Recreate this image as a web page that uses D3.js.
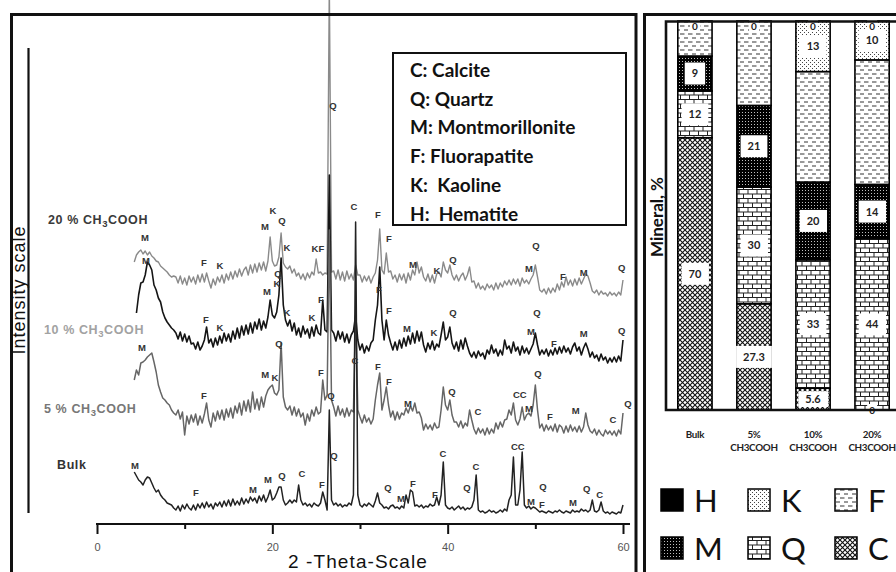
<!DOCTYPE html>
<html>
<head>
<meta charset="utf-8">
<script src="https://cdn.jsdelivr.net/npm/d3@7"></script>
<style>
body { margin: 0; background: #fff; }
svg { display: block; }
</style>
</head>
<body>
<div id="chart"></div>
<script>
// ---- XRD patterns: intensity (a.u.) every 0.25 deg 2-theta, from 4.25 to 60 ----
const thetaStart = 4.25;
const thetaStep = 0.25;

const samples = ["Bulk", "5 % CH3COOH", "10 % CH3COOH", "20 % CH3COOH"];
const sampleOffsets = [10, 100, 170, 240]; // stacking offset of each pattern

const xrdBulk = [
  43, 39, 35,
  33, 30, 35, 38,  37, 32, 27, 23,  25, 20, 17, 15,  12, 11, 10, 7,  5, 9, 4, 10,
  6, 11, 7, 5,  10, 5, 11, 7,  12, 7, 13, 8,  11, 6, 12, 9,  13, 8, 14, 9,
  15, 9, 16, 10,  14, 10, 17, 11,  16, 12, 18, 14,  17, 12, 19, 14,  20, 13, 18, 25,
  15, 17, 22, 28,  28, 15, 10, 12,  15, 12, 15, 13,  30, 15, 10, 12,  9, 11, 8, 12,
  10, 9, 12, 23,  15, 5, 105, 15,  10, 12, 9, 11,  8, 10, 9, 12,  10, 20, 293, 20,
  10, 8, 11, 9,  12, 10, 8, 14,  22, 12, 10, 7,  8, 6, 9, 10,  7, 8, 6, 9,
  7, 20, 12, 25,  23, 9, 10, 8,  10, 7, 9, 8,  11, 9, 10, 18,  10, 20, 53, 10,
  7, 6, 8, 5,  7, 9, 6, 8,  5, 7, 6, 8,  15, 40, 5, 3,  4, 2, 3, 5,
  3, 4, 2, 3,  5, 3, 6, 4,  15, 20, 58, 10,  10, 25, 63, 10,  7, 9, 6, 8,
  7, 5, 3, 4,  3, 2, 4, 3,  2, 4, 3, 5,  3, 2, 4, 3,  2, 5, 3, 4,
  3, 6, 4, 5,  3, 5, 15, 4,  3, 5, 13, 4,  2, 3, 1, 3,  2, 1, 3, 2,
  10
];

const xrd5 = [
  45, 55, 50,
  62, 63, 65, 68,  70, 72, 63, 53,  40, 33, 27, 25,  22, 20, 15, 12,  10, 15, 6, 13,
  -10, 9, 1, 10,  3, 11, 0, 9,  2, 11, 22, 5,  -2, 12, 4, 14,  6, 15, 5, 16,
  8, 17, 7, 19,  12, 22, 10, 24,  14, 25, 13, 33,  16, 26, 15, 28,  18, 29, 35, 38,
  40, 32, 30, 35,  82, 28, 18, 15,  19, 10, 18, 9,  16, 8, 12, 0,  11, 4, 15, 9,
  18, 11, 13, 45,  25, 30, 195, 25,  18, 9, 19, 10,  16, 8, 17, 9,  15, 13, 115, 15,
  8, 2, 10, 3,  7, 1, 6, 25,  40, 52, 15, 25,  38, 20, 8, 14,  5, 13, 6, 12,
  10, 17, 12, 19,  14, 22, 12, 13,  7, -5, 1, -4,  0, -5, 2, -3,  -2, 15, 38, 20,
  15, 25, 10, 3,  3, -2, 4, -3,  2, -1, 15, 5,  -4, -9, -3, -8,  -4, -10, -3, -9,
  -4, -8, 2, -4,  3, -2, 5, 6,  15, 10, 22, 5,  0, 6, 18, 5,  10, 12, 9, 20,
  40, 15, -3, 1,  -6, 0, -5, -1,  -6, 1, -7, 0,  -2, -8, -1, -7,  0, -6, -2, -7,
  -1, -7, -2, 12,  0, -6, -8, -4,  -10, -5, -9, -11,  -5, -9, -6, -10,  -6, -11, -5, -9,
  12
];

const xrd10 = [
  null, 42, 60,
  72, 73, 80, 93,  90, 85, 70, 65,  57, 53, 43, 37,  33, 30, 27, 25,  22, 16, 23, 14,
  21, 13, 19, 11,  12, 6, 13, 5,  9, 15, 28, 12,  16, 8, 17, 10,  19, 12, 22, 14,
  21, 13, 24, 16,  27, 17, 29, 20,  30, 21, 32, 22,  33, 26, 36, 25,  34, 27, 38, 55,
  40, 37, 43, 60,  97, 50, 35, 29,  35, 24, 32, 20,  27, 18, 29, 21,  26, 17, 28, 19,
  30, 22, 20, 55,  25, 23, 180, 25,  22, 14, 24, 16,  23, 13, 21, 12,  20, 24, 40, 15,
  5, 11, 2, 9,  4, 12, 15, 35,  50, 88, 35, 15,  35, 20, 12, 5,  13, 5, 15, 7,
  17, 9, 19, 11,  22, 12, 24, 14,  23, 10, 3, 12,  6, 14, 5, 11,  8, 20, 33, 15,
  18, 28, 12, 6,  13, 4, 15, 6,  17, 9, 2, -2,  3, -3, 4, -1,  2, -4, 5, 1,
  10, 2, 6, -1,  5, 0, 15, 6,  9, 2, 13, 4,  8, 0, 9, 2,  7, 1, 6, 11,
  22, 10, 0, 5,  1, 6, -1, 5,  0, 7, 1, 8,  2, 9, 3, 7,  1, 8, 12, 4,
  8, 0, 7, 12,  6, -2, 3, -3,  0, -6, 1, -5,  -2, -8, -3, -7,  -2, -7, -1, -6,
  15
];

const xrd20 = [
  23, 30, 33,
  35, 31, 34, 30,  33, 29, 27, 24,  23, 19, 17, 15,  13, 10, 8, 9,  8, 2, 9, 1,
  7, 0, 9, 3,  8, 1, 10, 3,  11, 3, 12, 4,  -3, 6, 0, 8,  3, 10, 2, 11,
  5, 13, 6, 14,  8, 16, 9, 15,  18, 10, 20, 12,  21, 13, 22, 15,  23, 14, 24, 48,
  24, 19, 20, 28,  52, 22, 18, 16,  19, 12, 16, 9,  12, 6, 11, 5,  12, 7, 13, 10,
  26, 12, 13, 10,  12, 11, 300, 13,  14, 6, 15, 5,  13, 4, 14, 6,  11, 5, 20, 10,
  10, 3, 9, 4,  9, 2, 8, 12,  25, 56, 15, 11,  32, 13, 14, 6,  10, 3, 11, 5,
  11, 2, 12, 5,  15, 10, 23, 12,  18, 8, 4, 11,  3, 10, 2, 11,  13, 8, 23, 15,
  12, 20, 10, 5,  10, 4, 9, 12,  5, 10, 18, 3,  4, -3, 2, -4,  -1, -5, 1, -3,
  0, -5, 2, -4,  2, -2, 4, 0,  5, 0, 6, 1,  6, -1, 7, 2,  5, 1, 6, 10,
  20, 8, -5, -7,  -4, -9, -3, -8,  -3, -7, 1, -5,  3, -2, 8, 0,  5, -1, 6, 0,
  7, 1, 6, 11,  9, 2, -6, -8,  -5, -10, -6, -9,  -8, -11, -7, -10,  -8, -11, -7, -10,
  5
];

// phase marks: [letter, 2-theta, intensity]
const peakLabels = [
  // 20 %
  ["K", 20.07, 314], ["Q", 21.09, 304], ["M", 19.16, 298], ["C", 29.3, 318], ["F", 32.04, 310],
  ["M", 5.47, 287], ["K", 21.66, 277], ["KF", 25.2, 276], ["F", 33.3, 286], ["Q", 50.06, 279],
  ["F", 12.2, 262], ["K", 14.03, 259], ["M", 36.03, 260], ["Q", 40.59, 265], ["K", 38.77, 254],
  ["M", 49.26, 256], ["F", 53.14, 248], ["M", 55.53, 252], ["Q", 59.86, 257], ["Q", 26.91, 419],
  // 10 %
  ["M", 5.59, 264], ["Q", 20.64, 251], ["M", 19.38, 233], ["K", 20.52, 241], ["F", 32.16, 235],
  ["F", 25.54, 225], ["K", 21.66, 212], ["K", 24.52, 207], ["F", 33.3, 214], ["Q", 40.59, 212],
  ["Q", 50.17, 212], ["F", 12.43, 205], ["K", 14.03, 197], ["M", 35.35, 196], ["K", 38.43, 192],
  ["M", 49.49, 193], ["M", 55.53, 191], ["Q", 59.86, 194], ["F", 52.11, 181],
  // 5 %
  ["C", 29.42, 164], ["M", 5.13, 177], ["Q", 20.75, 181], ["F", 25.54, 152], ["F", 32.04, 158],
  ["F", 33.3, 143], ["Q", 50.29, 151], ["M", 19.2, 150], ["K", 20.3, 147], ["Q", 26.68, 129],
  ["Q", 40.48, 133], ["CC", 48.23, 130], ["F", 12.2, 129], ["M", 35.46, 121], ["C", 43.44, 113],
  ["M", 49.26, 116], ["F", 51.65, 108], ["M", 54.62, 114], ["C", 58.84, 105], ["Q", 60.55, 121],
  // Bulk
  ["Q", 27.02, 69], ["C", 39.45, 71], ["CC", 48.0, 78], ["M", 4.33, 59], ["C", 43.22, 58],
  ["C", 23.38, 51], ["Q", 21.1, 49], ["M", 19.5, 45], ["M", 17.79, 35], ["F", 25.66, 40],
  ["F", 36.03, 41], ["Q", 33.18, 37], ["Q", 42.19, 37], ["Q", 50.86, 38], ["Q", 55.87, 36],
  ["C", 57.35, 30], ["F", 11.29, 32], ["F", 38.54, 30], ["M", 34.66, 26], ["M", 49.49, 23],
  ["F", 50.74, 20], ["M", 54.28, 22]
];

const phaseKey = ["C: Calcite", "Q: Quartz", "M: Montmorillonite", "F: Fluorapatite", "K:  Kaoline", "H:  Hematite"];
const majorTicks = [0, 20, 40, 60];
const minorTicks = [10, 30, 50];

// ---- mineral composition, % (stacked bars) ----
const barCategories = ["Bulk", "5% CH3COOH", "10% CH3COOH", "20% CH3COOH"];
const calcite = [70, 27.3, 5.6, 0];
const quartz = [12, 30, 33, 44];
const montmorillonite = [9, 21, 20, 14];
const fluorapatite = [9, 21.7, 28.4, 32];
const kaoline = [0, 0, 13, 10];
const hematite = [0, 0, 0, 0];
const mineralKeys = ["C", "Q", "M", "F", "K", "H"]; // bottom to top
const labelledKeys = ["C", "Q", "M", "K", "H"];
const legendRows = [["H", "K", "F"], ["M", "Q", "C"]];

const W = 896, H = 572;
const svg = d3.select("#chart").append("svg").attr("width", W).attr("height", H);
svg.append("rect").attr("width", W).attr("height", H).attr("fill", "#fff");

// ================= left panel: XRD =================
const x = d3.scaleLinear().domain([0, 60]).range([97, 623]);
const y = d3.scaleLinear().domain([0, 525]).range([525, 0]);

const traces = [
  { vals: xrd20, off: sampleOffsets[3], color: "#8a8a8a", w: 1.4 },
  { vals: xrd10, off: sampleOffsets[2], color: "#151515", w: 1.6 },
  { vals: xrd5, off: sampleOffsets[1], color: "#666", w: 1.5 },
  { vals: xrdBulk, off: sampleOffsets[0], color: "#222", w: 1.5 }
];

const line = d3.line()
  .defined(d => d[1] != null)
  .x(d => x(d[0]))
  .y(d => y(d[1]));

traces.forEach(t => {
  const pts = t.vals.map((v, i) => [thetaStart + i * thetaStep, v == null ? null : v + t.off]);
  svg.append("path")
    .datum(pts)
    .attr("d", line)
    .attr("fill", "none")
    .attr("stroke", t.color)
    .attr("stroke-width", t.w)
    .attr("stroke-linejoin", "round");
});

// phase letters
svg.append("g")
  .selectAll("text")
  .data(peakLabels)
  .join("text")
  .attr("x", d => x(d[1]))
  .attr("y", d => y(d[2]))
  .attr("dy", "0.35em")
  .attr("text-anchor", "middle")
  .attr("font-family", "Liberation Sans, Arial, sans-serif")
  .attr("font-weight", "bold")
  .attr("font-size", 9.5)
  .attr("fill", "#333")
  .text(d => d[0]);

// x axis
const axisY = 524;
const gx = svg.append("g").attr("transform", `translate(0,${axisY})`);
gx.call(d3.axisBottom(x).tickValues(majorTicks).tickSize(10).tickPadding(9).tickSizeOuter(0));
gx.append("g").call(d3.axisBottom(x).tickValues(minorTicks).tickSize(5).tickFormat(""));
gx.selectAll(".domain").remove();
gx.selectAll("line").attr("stroke", "#111").attr("stroke-width", 2);
gx.selectAll("text")
  .attr("font-family", "Liberation Sans, Arial, sans-serif")
  .attr("font-size", 11)
  .attr("fill", "#555");
gx.append("line")
  .attr("x1", x(0) - 1).attr("x2", x(60.8))
  .attr("stroke", "#111").attr("stroke-width", 2.2);

svg.append("text")
  .attr("x", 358).attr("y", 568)
  .attr("text-anchor", "middle")
  .attr("font-family", "Liberation Sans, Arial, sans-serif")
  .attr("font-size", 19)
  .attr("letter-spacing", 1.1)
  .attr("fill", "#111")
  .text("2 -Theta-Scale");

// y axis line + title
svg.append("line")
  .attr("x1", 28.5).attr("x2", 28.5).attr("y1", 48).attr("y2", 513)
  .attr("stroke", "#111").attr("stroke-width", 2.2);
svg.append("text")
  .attr("transform", "translate(25,290) rotate(-90)")
  .attr("text-anchor", "middle")
  .attr("font-family", "Liberation Sans, Arial, sans-serif")
  .attr("font-size", 18)
  .attr("letter-spacing", 1)
  .attr("fill", "#111")
  .text("Intensity scale");

// sample names
const nameLayout = [
  { x: 57, y: 465, color: "#333" },
  { x: 44, y: 409, color: "#777" },
  { x: 44, y: 330, color: "#a2a2a2" },
  { x: 48, y: 220, color: "#3a3a3a" }
];
samples.forEach((s, i) => {
  const L = nameLayout[i];
  const t = svg.append("text")
    .attr("x", L.x).attr("y", L.y).attr("dy", "0.35em")
    .attr("font-family", "Liberation Sans, Arial, sans-serif")
    .attr("font-weight", "bold")
    .attr("font-size", 12.5)
    .attr("letter-spacing", 0.6)
    .attr("fill", L.color);
  const m = s.match(/^(.*CH)3(.*)$/);
  if (m) {
    t.append("tspan").text(m[1]);
    t.append("tspan").attr("font-size", 9.5).attr("dy", 3).text("3");
    t.append("tspan").attr("dy", -3).text(m[2]);
  } else {
    t.text(s);
  }
});

// phase key box
svg.append("rect")
  .attr("x", 393).attr("y", 53).attr("width", 233).attr("height", 172)
  .attr("fill", "#fff").attr("stroke", "#111").attr("stroke-width", 2);
svg.append("g")
  .selectAll("text")
  .data(phaseKey)
  .join("text")
  .attr("x", 410)
  .attr("y", (d, i) => 70 + i * 28.8)
  .attr("dy", "0.36em")
  .attr("font-family", "Lato, sans-serif")
  .attr("font-weight", "bold")
  .attr("font-size", 19)
  .attr("fill", "#111")
  .style("white-space", "pre")
  .text(d => d);

// panel borders
svg.append("rect")
  .attr("x", 11.5).attr("y", 14.5).attr("width", 624.5).attr("height", 620)
  .attr("fill", "none").attr("stroke", "#111").attr("stroke-width", 3);
svg.append("rect")
  .attr("x", 644.5).attr("y", 14.5).attr("width", 300).attr("height", 620)
  .attr("fill", "none").attr("stroke", "#111").attr("stroke-width", 3);

// ================= right panel: stacked bars =================
const defs = svg.append("defs");
function pattern(id, w, h, bg, draw) {
  const p = defs.append("pattern").attr("id", id)
    .attr("patternUnits", "userSpaceOnUse").attr("width", w).attr("height", h);
  p.append("rect").attr("width", w).attr("height", h).attr("fill", bg);
  draw(p);
}
pattern("pC", 5, 5, "#fff", p => p.append("path")
  .attr("d", "M-1,-1L6,6M6,-1L-1,6").attr("stroke", "#111").attr("stroke-width", 1.1));
pattern("pQ", 9, 9, "#fff", p => p.append("path")
  .attr("d", "M0,0.5H9M0,5H9M1,0.5V5M5.5,5V9").attr("stroke", "#222").attr("stroke-width", 1));
pattern("pM", 3, 3, "#000", p => p.append("rect")
  .attr("x", 1).attr("y", 1).attr("width", 1).attr("height", 1).attr("fill", "#fff").attr("opacity", 0.75));
pattern("pF", 8, 8, "#fff", p => p.append("path")
  .attr("d", "M0,2H4.5M4,6H8.5").attr("stroke", "#333").attr("stroke-width", 1));
pattern("pK", 4, 4, "#fff", p => {
  p.append("rect").attr("x", 0).attr("y", 0).attr("width", 1).attr("height", 1).attr("fill", "#444");
  p.append("rect").attr("x", 2).attr("y", 2).attr("width", 1).attr("height", 1).attr("fill", "#444");
});
const fillOf = k => k === "H" ? "#000" : `url(#p${k})`;

const barRows = barCategories.map((c, i) => ({
  cat: c, C: calcite[i], Q: quartz[i], M: montmorillonite[i],
  F: fluorapatite[i], K: kaoline[i], H: hematite[i]
}));
const stacked = d3.stack().keys(mineralKeys)(barRows);

const xb = d3.scaleBand().domain(barCategories).range([666, 901]).paddingInner(0.42).paddingOuter(0.2);
const yb = d3.scaleLinear().domain([0, 100]).range([410, 21]);

const gBars = svg.append("g");
stacked.forEach(series => {
  gBars.append("g")
    .selectAll("rect")
    .data(series)
    .join("rect")
    .attr("x", d => xb(d.data.cat))
    .attr("y", d => yb(d[1]))
    .attr("width", xb.bandwidth())
    .attr("height", d => yb(d[0]) - yb(d[1]))
    .attr("fill", fillOf(series.key))
    .attr("stroke", "#000")
    .attr("stroke-width", 1.6);
});

// value labels (one per position, last one wins)
const labelMap = new Map();
stacked.forEach(series => {
  if (!labelledKeys.includes(series.key)) return;
  series.forEach(d => {
    const v = d[1] - d[0];
    let cy;
    if (v === 0) cy = d[0] >= 100 ? yb(d[0]) + 5 : yb(d[0]);
    else cy = (yb(d[0]) + yb(d[1])) / 2;
    labelMap.set(d.data.cat + "|" + Math.round(cy), {
      cat: d.data.cat, cy, v, seg: yb(d[0]) - yb(d[1])
    });
  });
});
const labels = Array.from(labelMap.values());
const gLab = svg.append("g");
labels.forEach(L => {
  const cx = xb(L.cat) + xb.bandwidth() / 2;
  const t = gLab.append("text")
    .attr("x", cx).attr("y", L.cy).attr("dy", "0.36em")
    .attr("text-anchor", "middle")
    .attr("font-family", "Lato, sans-serif")
    .attr("font-weight", "bold")
    .attr("font-size", L.v === 0 ? 10 : 11)
    .attr("fill", "#222")
    .text(d3.format("~")(L.v));
  const bb = t.node().getBBox();
  const h = L.v === 0 ? 12 : Math.min(22, L.seg - 6);
  const padX = L.v === 0 ? 2 : 7;
  gLab.insert("rect", () => t.node())
    .attr("x", bb.x - padX).attr("y", L.cy - h / 2)
    .attr("width", bb.width + 2 * padX).attr("height", h)
    .attr("fill", "#fff");
});

// frame of the bar plot
svg.append("path")
  .attr("d", `M${W},21.5H666V410H${W}`)
  .attr("fill", "none").attr("stroke", "#111").attr("stroke-width", 2.6);

svg.append("text")
  .attr("transform", "translate(657,217) rotate(-90)")
  .attr("dy", "0.35em")
  .attr("text-anchor", "middle")
  .attr("font-family", "Lato, sans-serif")
  .attr("font-weight", "bold")
  .attr("font-size", 17)
  .attr("fill", "#111")
  .text("Mineral, %");

// category names
barCategories.forEach(c => {
  const parts = c.split(" ");
  const t = svg.append("text")
    .attr("x", xb(c) + xb.bandwidth() / 2)
    .attr("y", 438)
    .attr("text-anchor", "middle")
    .attr("font-family", "Lato, sans-serif")
    .attr("font-weight", "bold")
    .attr("font-size", 9.8)
    .attr("letter-spacing", -0.3)
    .attr("fill", "#222");
  parts.forEach((p, i) => t.append("tspan")
    .attr("x", xb(c) + xb.bandwidth() / 2)
    .attr("dy", i === 0 ? 0 : 12.5)
    .text(p));
});

// legend
legendRows.forEach((row, r) => {
  row.forEach((k, c) => {
    const lx = 661 + c * 87;
    const ly = 489 + r * 48;
    svg.append("rect")
      .attr("x", lx).attr("y", ly).attr("width", 22).attr("height", 22)
      .attr("fill", fillOf(k)).attr("stroke", "#000").attr("stroke-width", 1.5);
    svg.append("text")
      .attr("x", lx + 33).attr("y", ly + 22.5)
      .attr("font-family", "Lato, sans-serif")
      .attr("font-size", 31)
      .attr("fill", "#111")
      .text(k);
  });
});
</script>
</body>
</html>
